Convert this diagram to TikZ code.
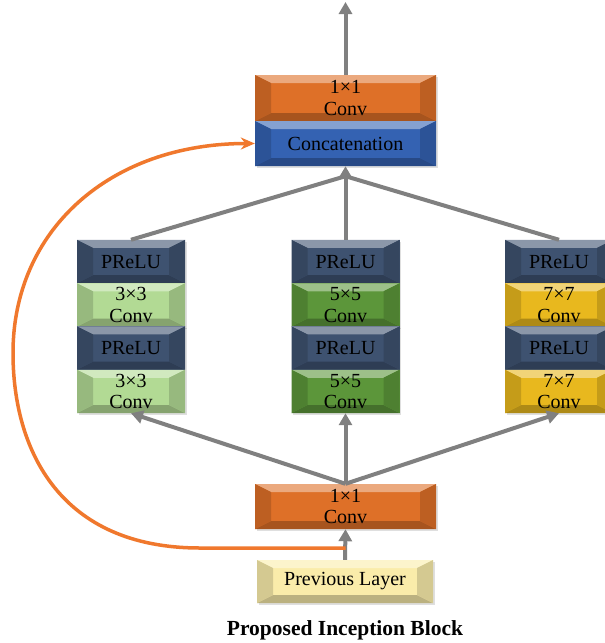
\documentclass[tikz,border=0pt]{standalone}
\usepackage{fontspec}
\setmainfont{Liberation Serif}
\usetikzlibrary{arrows.meta,shadows}
\definecolor{cOrange}{RGB}{222,112,40}
\definecolor{cBlue}{RGB}{52,98,178}
\definecolor{cSlate}{RGB}{62,82,112}
\definecolor{cLgreen}{RGB}{178,218,148}
\definecolor{cDgreen}{RGB}{92,150,58}
\definecolor{cGold}{RGB}{232,184,30}
\definecolor{cPrev}{RGB}{250,236,170}
\definecolor{cArrow}{RGB}{128,128,128}
\definecolor{cSkip}{RGB}{240,120,45}
\tikzset{
  bev/.style={fill=#1, inner sep=0pt, align=center,
    font=\fontsize{20}{21.5}\selectfont,
    drop shadow={opacity=0.25, shadow xshift=1.5pt, shadow yshift=-2pt},
    path picture={
      \fill[#1!60!white] (path picture bounding box.north west) -- (path picture bounding box.north east)
        -- ([xshift=-16pt,yshift=-8pt]path picture bounding box.north east)
        -- ([xshift=16pt,yshift=-8pt]path picture bounding box.north west) -- cycle;
      \fill[#1!75!black] (path picture bounding box.south west) -- (path picture bounding box.south east)
        -- ([xshift=-16pt,yshift=8pt]path picture bounding box.south east)
        -- ([xshift=16pt,yshift=8pt]path picture bounding box.south west) -- cycle;
      \fill[#1!85!black] (path picture bounding box.north west)
        -- ([xshift=16pt,yshift=-8pt]path picture bounding box.north west)
        -- ([xshift=16pt,yshift=8pt]path picture bounding box.south west)
        -- (path picture bounding box.south west) -- cycle;
      \fill[#1!85!black] (path picture bounding box.north east)
        -- ([xshift=-16pt,yshift=-8pt]path picture bounding box.north east)
        -- ([xshift=-16pt,yshift=8pt]path picture bounding box.south east)
        -- (path picture bounding box.south east) -- cycle;
    }},
  wide/.style={minimum width=181pt, minimum height=45pt},
  colbox/.style={minimum width=108pt, minimum height=43.25pt},
  garrow/.style={draw=cArrow, line width=4pt, -{Triangle[length=12pt,width=13pt]}},
  gline/.style={draw=cArrow, line width=4pt},
  skip/.style={draw=cSkip, line width=3.5pt, -{Stealth[length=14pt,width=12pt]}},
}
\begin{document}
\begin{tikzpicture}[x=1pt,y=-1pt]
\useasboundingbox (0,0) rectangle (605,643);
\fill[white] (0,0) rectangle (605,643);
\clip (0,0) rectangle (605,643);

% top block
\node[bev=cOrange, wide, minimum height=46pt] (topconv) at (345.5,98) {1×1\\Conv};
\node[bev=cBlue, wide] (concat) at (345.5,143.5) {Concatenation};

% left column
\node[bev=cSlate, colbox] (l1) at (131,261.6) {PReLU};
\node[bev=cLgreen, colbox] (l2) at (131,304.9) {3×3\\Conv};
\node[bev=cSlate, colbox] (l3) at (131,348.1) {PReLU};
\node[bev=cLgreen, colbox] (l4) at (131,391.4) {3×3\\Conv};
% middle column
\node[bev=cSlate, colbox] (m1) at (345.5,261.6) {PReLU};
\node[bev=cDgreen, colbox] (m2) at (345.5,304.9) {5×5\\Conv};
\node[bev=cSlate, colbox] (m3) at (345.5,348.1) {PReLU};
\node[bev=cDgreen, colbox] (m4) at (345.5,391.4) {5×5\\Conv};
% right column
\node[bev=cSlate, colbox] (r1) at (559,261.6) {PReLU};
\node[bev=cGold, colbox] (r2) at (559,304.9) {7×7\\Conv};
\node[bev=cSlate, colbox] (r3) at (559,348.1) {PReLU};
\node[bev=cGold, colbox] (r4) at (559,391.4) {7×7\\Conv};

% bottom
\node[bev=cOrange, wide] (botconv) at (345.5,506.5) {1×1\\Conv};
\node[bev=cPrev, minimum width=176pt, minimum height=43pt] (prev) at (345,581.5) {Previous Layer};
\node[font=\fontsize{21.5}{23}\selectfont\bfseries] (title) at (345,630) {Proposed Inception Block};

\coordinate (out) at (345.5,2);
\coordinate (merge) at ([yshift=-10pt]concat.south);
\coordinate (tap) at (345.5,548);

% gray connectors
\draw[garrow] (topconv.north) -- (out);
\draw[gline] (l1.north) -- (merge);
\draw[gline] (r1.north) -- (merge);
\draw[garrow] (m1.north) -- (concat.south);
\draw[garrow] (botconv.north) -- (l4.south);
\draw[garrow] (botconv.north) -- (m4.south);
\draw[garrow] (botconv.north) -- (r4.south);
\draw[garrow] (prev.north) -- (botconv.south);

% skip connection
\draw[skip] (tap) -- (200,548) .. controls (60,548) and (13,450) .. (13,353)
  .. controls (13,230) and (110,143.5) .. (concat.west);
\end{tikzpicture}
\end{document}
